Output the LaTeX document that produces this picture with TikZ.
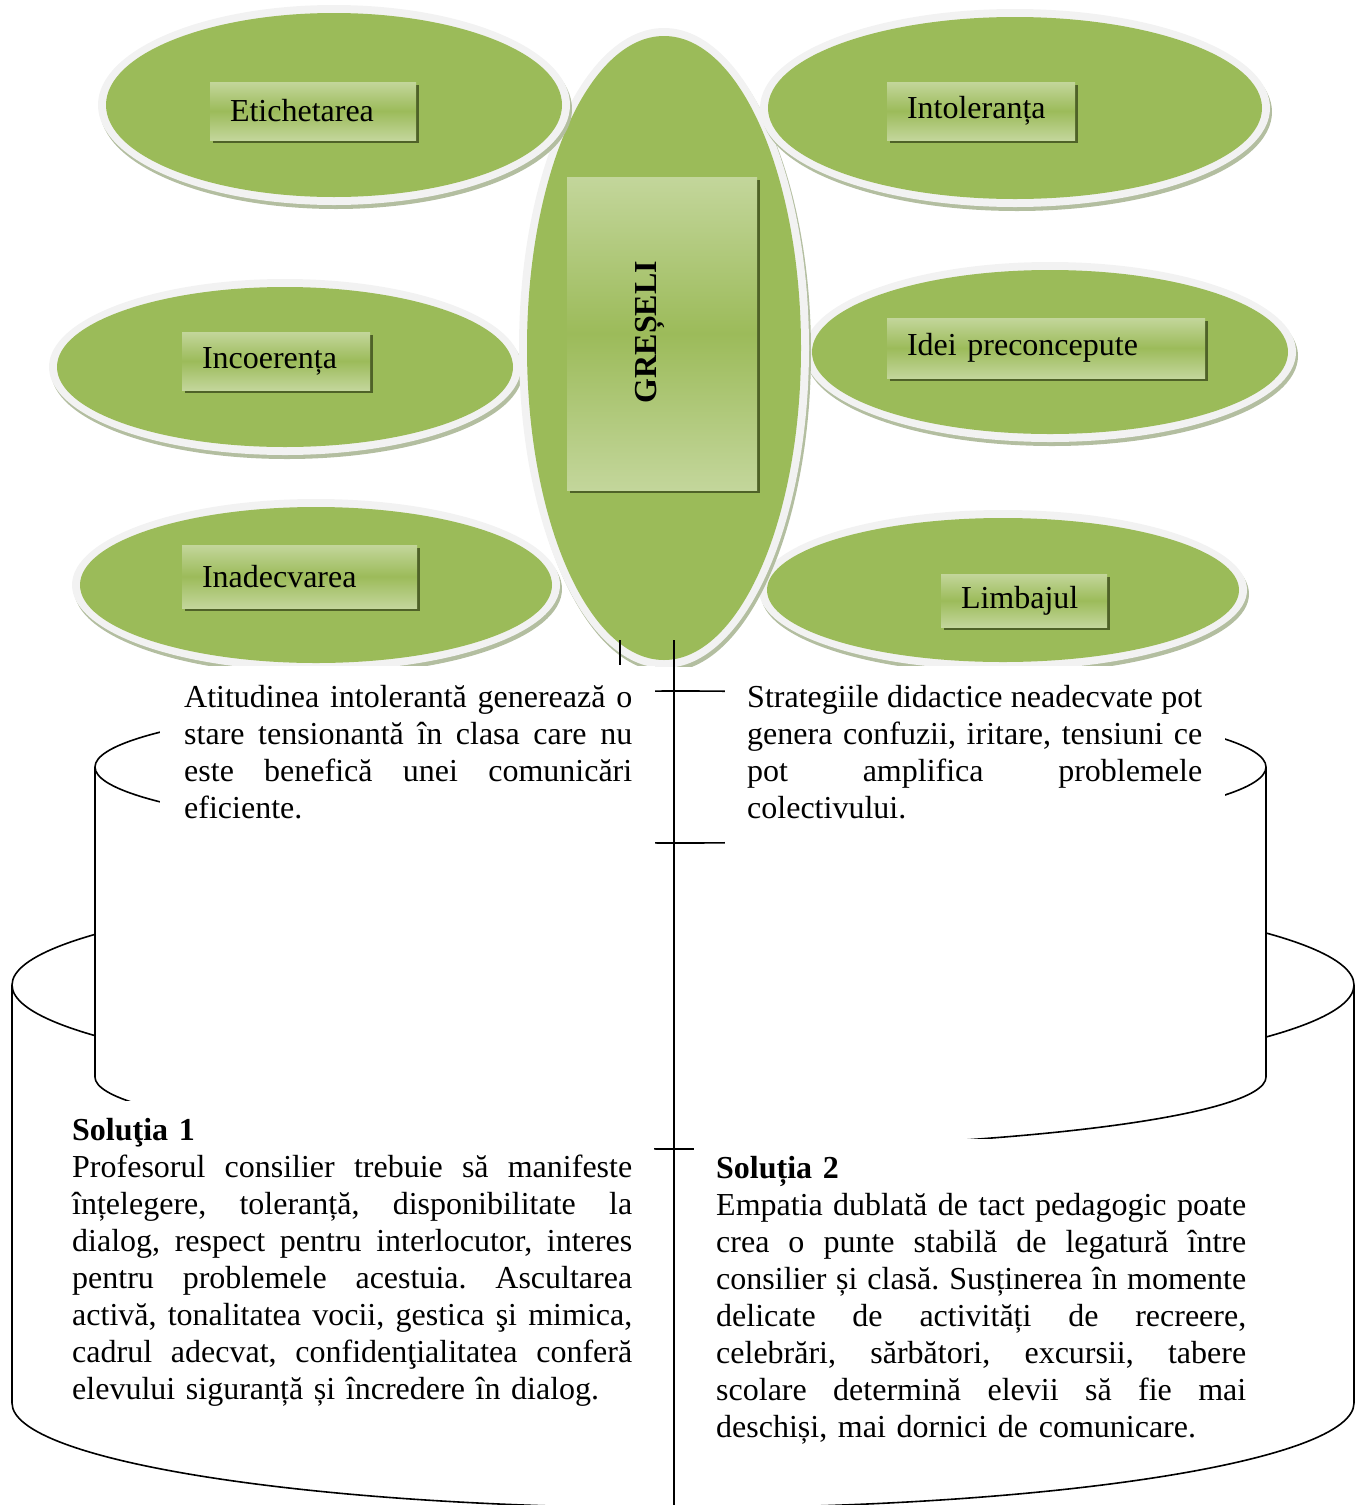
\documentclass[tikz,border=0pt]{standalone}
\usepackage{fontspec}
\setmainfont{Liberation Serif}
\usetikzlibrary{shadows}
\definecolor{gfill}{HTML}{9BBB59}
\definecolor{gring}{HTML}{F2F2F2}
\definecolor{gshadow}{HTML}{B3BEA0}
\definecolor{lblight}{HTML}{C3D69B}
\definecolor{lbdark}{HTML}{9CBB5A}
\definecolor{lbshadow}{HTML}{4F6228}
\newcommand\petal[6]{%
  \fill[gshadow] (#1+2,#2+4) ellipse[x radius=#5, y radius=#6];
  \fill[gring] (#1,#2) ellipse[x radius=#5, y radius=#6];
  \fill[gfill] (#1,#2) ellipse[x radius=#3, y radius=#4];}
\newcommand\jline[2]{\noindent\hbox to #1{#2}\par}
\newcommand\fline[1]{\noindent\hbox{#1}\par}
\begin{document}
\begin{tikzpicture}[x=1pt,y=-1pt,
  body/.style={font=\fontsize{32}{37}\selectfont, inner sep=0pt, anchor=base west},
  lab/.style={top color=lblight, bottom color=lblight, middle color=lbdark, draw=none,
    inner xsep=20pt, inner ysep=0pt, font=\fontsize{32}{37}\selectfont, align=left,
    drop shadow={shadow xshift=3pt, shadow yshift=-3pt, fill=lbshadow, opacity=1}},
  cyl/.style={line width=1.6pt, black},
  cover/.style={fill=white, draw=none}]
\useasboundingbox (0,0) rectangle (1361,1505);
% ---------- petals ----------
\begin{scope}
\clip (0,0) rectangle (1361,666);
\petal{285}{367}{228}{80}{236}{88}
\petal{1050}{352}{238}{82}{246}{90}
\petal{316}{585}{236}{78}{244}{86}
\petal{1003}{590}{236}{72}{244}{80}
\petal{664}{348}{137}{312}{145}{320}
\petal{334}{105}{228}{92}{236}{100}
\petal{1015}{108}{247}{91}{255}{99}
\end{scope}
% ---------- labels ----------
\node[lab, text width=166pt, minimum height=58pt] (l1) at (313,111) {Etichetarea};
\node[lab, text width=148pt, minimum height=58pt] (l2) at (981,111) {Intoleranța};
\node[lab, text width=148pt, minimum height=58pt] (l3) at (276,361) {Incoerența};
\node[lab, text width=278pt, minimum height=60pt] (l4) at (1046,348) {Idei preconcepute};
\node[lab, text width=195pt, minimum height=63pt] (l5) at (299.5,576.5) {Inadecvarea};
\node[lab, text width=126pt, minimum height=53pt] (l6) at (1024,600.5) {Limbajul};
\node[lab, minimum width=190pt, minimum height=313pt, inner sep=0pt] (core) at (662,333.5) {};
\node[rotate=90, font=\bfseries\fontsize{32}{37}\selectfont, anchor=base, inner sep=0pt] (coretext) at (656,332) {GREȘELI};
% ---------- lower cylinder ----------
\fill[white] (683,985) ellipse[x radius=671, y radius=105];
\fill[white] (12,985) rectangle (1354,1403);
\fill[white] (683,1403) ellipse[x radius=671, y radius=105];
\draw[cyl] (683,985) ellipse[x radius=671, y radius=105];
\draw[cyl] (12,985) -- (12,1403);
\draw[cyl] (1354,985) -- (1354,1403);
\begin{scope}
\clip (0,1403) rectangle (1361,1505);
\draw[cyl] (683,1403) ellipse[x radius=671, y radius=105];
\end{scope}
% ---------- upper cylinder ----------
\fill[white] (680.5,767) ellipse[x radius=585.5, y radius=76];
\fill[white] (95,767) rectangle (1266,1077);
\fill[white] (680.5,1077) ellipse[x radius=585.5, y radius=72];
\draw[cyl] (680.5,767) ellipse[x radius=585.5, y radius=76];
\draw[cyl] (95,767) -- (95,1077);
\draw[cyl] (1266,767) -- (1266,1077);
\begin{scope}
\clip (0,1077) rectangle (1361,1200);
\draw[cyl] (680.5,1077) ellipse[x radius=585.5, y radius=72];
\end{scope}
% ---------- covers ----------
\fill[cover] (160,666) rectangle (655,852);
\fill[cover] (725,666) rectangle (1225,852);
\fill[cover] (50,1101) rectangle (654,1400);
\fill[cover] (694,1139) rectangle (1255,1445);
% ---------- texts ----------
\node[body, text width=448pt] (t1) at (184,707) {%
\jline{448pt}{Atitudinea\hfill intolerantă\hfill generează\hfill o}%
\jline{448pt}{stare\hfill tensionantă\hfill în\hfill clasa\hfill care\hfill nu}%
\jline{448pt}{este\hfill benefică\hfill unei\hfill comunicări}%
\fline{eficiente.}};
\node[body, text width=455pt] (t2) at (747,707) {%
\jline{455pt}{Strategiile\hfill didactice\hfill neadecvate\hfill pot}%
\jline{455pt}{genera\hfill confuzii,\hfill iritare,\hfill tensiuni\hfill ce}%
\jline{455pt}{pot\hfill amplifica\hfill problemele}%
\fline{colectivului.}};
\node[body, text width=560pt] (t3) at (72,1140) {%
\fline{\bfseries Soluţia 1}%
\jline{560pt}{Profesorul\hfill consilier\hfill trebuie\hfill să\hfill manifeste}%
\jline{560pt}{înțelegere,\hfill toleranță,\hfill disponibilitate\hfill la}%
\jline{560pt}{dialog,\hfill respect\hfill pentru\hfill interlocutor,\hfill interes}%
\jline{560pt}{pentru\hfill problemele\hfill acestuia.\hfill Ascultarea}%
\jline{560pt}{activă,\hfill tonalitatea\hfill vocii,\hfill gestica\hfill şi\hfill mimica,}%
\jline{560pt}{cadrul\hfill adecvat,\hfill confidenţialitatea\hfill conferă}%
\fline{elevului siguranță și încredere în dialog.}};
\node[body, text width=530pt] (t4) at (716,1178) {%
\fline{\bfseries Soluția 2}%
\jline{530pt}{Empatia\hfill dublată\hfill de\hfill tact\hfill pedagogic\hfill poate}%
\jline{530pt}{crea\hfill o\hfill punte\hfill stabilă\hfill de\hfill legatură\hfill între}%
\jline{530pt}{consilier\hfill și\hfill clasă.\hfill Susținerea\hfill în\hfill momente}%
\jline{530pt}{delicate\hfill de\hfill activități\hfill de\hfill recreere,}%
\jline{530pt}{celebrări,\hfill sărbători,\hfill excursii,\hfill tabere}%
\jline{530pt}{scolare\hfill determină\hfill elevii\hfill să\hfill fie\hfill mai}%
\fline{deschiși, mai dornici de comunicare.}};
% ---------- lines ----------
\coordinate (vtop) at (674,640);
\coordinate (vbot) at (674,1505);
\coordinate (stop) at (620,640);
\coordinate (sbot) at (620,665);
\draw[cyl] (vtop) -- (vbot);
\draw[cyl] (stop) -- (sbot);
\end{tikzpicture}
\end{document}
